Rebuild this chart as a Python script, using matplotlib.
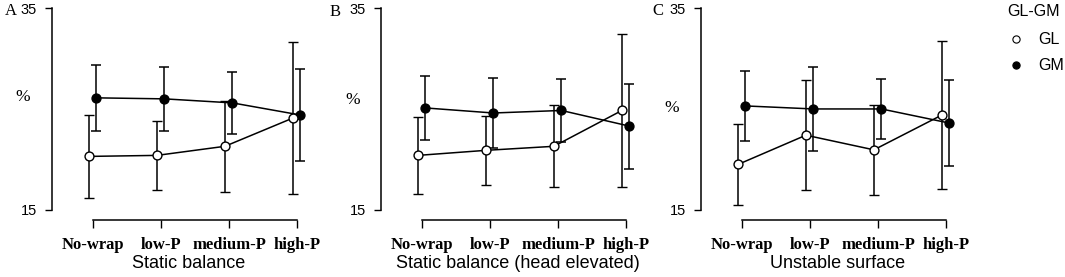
import numpy as np
import matplotlib
matplotlib.use("Agg")
import matplotlib.pyplot as plt
from matplotlib.lines import Line2D

# data (%)
categories = ["No-wrap", "low-P", "medium-P", "high-P"]
panel_names = ["Static balance", "Static balance (head elevated)", "Unstable surface"]
panel_letters = ["A", "B", "C"]
legend_title = "GL-GM"
series_names = ["GL", "GM"]

gl_static = [20.3, 20.4, 21.3, 24.1]
gl_static_err = [4.1, 3.4, 4.5, 7.5]
gm_static = [26.1, 26.0, 25.6, 24.4]
gm_static_err = [3.25, 3.15, 3.1, 4.55]

gl_head = [20.4, 20.9, 21.3, 24.85]
gl_head_err = [3.8, 3.45, 4.05, 7.6]
gm_head = [25.1, 24.6, 24.85, 23.3]
gm_head_err = [3.2, 3.45, 3.1, 4.2]

gl_unstable = [19.5, 22.4, 20.95, 24.4]
gl_unstable_err = [4.0, 5.45, 4.45, 7.3]
gm_unstable = [25.3, 25.0, 25.0, 23.6]
gm_unstable_err = [3.45, 4.2, 2.95, 4.3]

gl_all = [(gl_static, gl_static_err), (gl_head, gl_head_err), (gl_unstable, gl_unstable_err)]
gm_all = [(gm_static, gm_static_err), (gm_head, gm_head_err), (gm_unstable, gm_unstable_err)]

W, H = 1065, 277
fig = plt.figure(figsize=(W / 100, H / 100), dpi=100)

def fx(px):
    return px / W

def fy(py):
    return 1 - py / H

# layout (pixels)
spine_x = [52, 381, 701]
letter_pos = [(5, 11), (330, 12), (652, 11)]
pct_pos = [(23, 97), (353, 100), (672, 108)]
xl, xr = 0.397, 4.42
step = 68.0
ylo, yhi = 14.0, 35.0
top_px, bot_px = 8, 220

x = np.arange(1, 5)
for i in range(3):
    w = (xr - xl) * step
    ax = fig.add_axes([fx(spine_x[i]), fy(bot_px), fx(w), (bot_px - top_px) / H])
    ax.set_xlim(xl, xr)
    ax.set_ylim(ylo, yhi)

    m, e = gm_all[i]
    ax.errorbar(x + 0.05, m, yerr=e, color="black", lw=1.1, elinewidth=1.1,
                capsize=3.5, capthick=1.1, marker="o", ms=6.4, mfc="black",
                mec="black", zorder=2, clip_on=False)
    m, e = gl_all[i]
    ax.errorbar(x - 0.06, m, yerr=e, color="black", lw=1.1, elinewidth=1.1,
                capsize=3.5, capthick=1.1, marker="o", ms=6.4, mfc="white",
                mec="black", mew=1.0, zorder=3, clip_on=False)

    for s in ["top", "right"]:
        ax.spines[s].set_visible(False)
    ax.spines["left"].set_bounds(15, 35)
    ax.spines["bottom"].set_bounds(1, 4)
    ax.spines["left"].set_linewidth(1.1)
    ax.spines["bottom"].set_linewidth(1.1)

    ax.set_yticks([15, 35])
    ax.set_yticklabels(["15", "35"], family="Liberation Sans", fontsize=10.5)
    ax.tick_params(axis="y", length=5, width=1.0, pad=6)
    ax.set_xticks(x)
    ax.set_xticklabels(categories, family="Liberation Serif", fontweight="bold", fontsize=12)
    ax.tick_params(axis="x", length=6, width=1.0, pad=6)
    ax.set_xlabel(panel_names[i], family="Liberation Sans", fontsize=13, labelpad=2)

    fig.text(fx(letter_pos[i][0]), fy(letter_pos[i][1]), panel_letters[i],
             family="Liberation Serif", fontsize=12, ha="left", va="center")
    fig.text(fx(pct_pos[i][0]), fy(pct_pos[i][1]), "%", family="Liberation Serif",
             fontsize=12.5, ha="center", va="center")

# legend, placed by hand
fig.text(fx(1007), fy(11), legend_title, family="Liberation Sans", fontsize=11.5,
         ha="left", va="center")
fills = ["white", "black"]
rows = [39, 65]
for name, fc, ry in zip(series_names, fills, rows):
    fig.add_artist(Line2D([fx(1016)], [fy(ry)], ls="none", marker="o", ms=5.2,
                          mfc=fc, mec="black", mew=0.8, transform=fig.transFigure))
    fig.text(fx(1038), fy(ry), name, family="Liberation Sans", fontsize=11.5,
             ha="left", va="center")

fig.savefig("out.png", dpi=100)
